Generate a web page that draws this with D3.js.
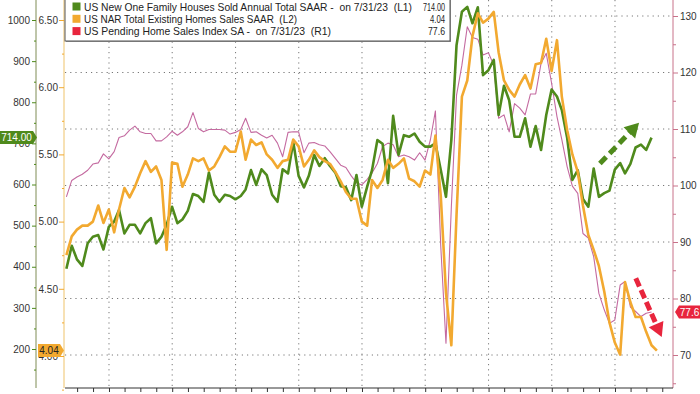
<!DOCTYPE html>
<html>
<head>
    <meta charset="utf-8">
    <title>US Home Sales</title>
    <script src="https://d3js.org/d3.v7.min.js"></script>
    <style>
        body { margin: 0; background: #fff; }
        svg { display: block; font-family: "Liberation Sans Narrow", "Liberation Sans", Arial, sans-serif; }
        .legend text { white-space: pre; }
        .tick text { fill: #333; font-size: 10px; }
    </style>
</head>
<body>
<div id="chart"></div>
<script>
// monthly values, first one is April 2014 (month end)
const newHomeSales = [
    395, 451, 418, 402, 457, 473, 477, 442, 497, 510, 538, 481,
    502, 502, 481, 506, 518, 457, 473, 502, 546, 506, 515, 536,
    577, 572, 558, 629, 575, 558, 575, 572, 564, 572, 588, 635,
    599, 637, 623, 575, 558, 637, 627, 704, 621, 593, 621, 672,
    645, 664, 645, 629, 596, 593, 562, 623, 546, 595, 635, 708,
    699, 603, 767, 672, 720, 716, 724, 704, 692, 692, 700, 635,
    570, 708, 939, 1020, 1032, 992, 1031, 866, 878, 903, 769, 840,
    805, 716, 716, 761, 692, 742, 684, 769, 831, 814, 781, 713,
    611, 635, 565, 546, 639, 570, 579, 585, 636, 652, 627, 650,
    690, 697, 684, 714
]
const existingHomeSales = [
    4.75, 4.89, 4.94, 4.97, 4.97, 5.00, 5.12, 4.99, 5.09, 4.92, 5.09, 5.25,
    5.18, 5.26, 5.36, 5.45, 5.37, 5.41, 5.31, 4.79, 5.44, 5.43, 5.26, 5.35,
    5.47, 5.45, 5.47, 5.38, 5.41, 5.48, 5.56, 5.52, 5.52, 5.67, 5.46, 5.61,
    5.57, 5.59, 5.50, 5.46, 5.40, 5.45, 5.46, 5.61, 5.56, 5.41, 5.46, 5.53,
    5.48, 5.45, 5.43, 5.37, 5.30, 5.22, 5.17, 5.17, 5.00, 4.97, 5.31, 5.25,
    5.31, 5.46, 5.40, 5.43, 5.47, 5.32, 5.30, 5.26, 5.38, 5.35, 5.64, 5.19,
    4.47, 4.08, 5.05, 5.93, 6.05, 6.38, 6.55, 6.48, 6.51, 6.56, 6.26, 6.05,
    5.98, 5.93, 6.02, 6.09, 5.99, 6.17, 6.18, 6.36, 6.12, 6.35, 5.93, 5.68,
    5.50, 5.37, 5.12, 4.90, 4.79, 4.67, 4.48, 4.25, 4.10, 4.01, 4.55, 4.40,
    4.29, 4.29, 4.18, 4.08, 4.04
]
const pendingSales = [
    98.0, 100.9, 101.5, 102.0, 102.7, 103.8, 104.0, 105.6, 104.7, 106.0, 108.5, 108.8,
    109.8, 110.5, 109.5, 109.2, 109.2, 107.9, 107.9, 108.6, 109.6, 108.9, 109.5, 110.4,
    112.9, 110.1, 109.5, 109.9, 109.9, 109.9, 109.8, 109.1, 109.4, 109.9, 111.9, 109.4,
    109.5, 108.9, 108.4, 108.9, 107.5, 105.1, 109.4, 109.5, 109.5, 105.8, 107.5, 107.6,
    107.2, 107.0, 106.0, 104.8, 103.6, 103.2, 101.7, 100.5, 100.1, 101.1, 102.2, 103.9,
    106.9, 107.5, 107.2, 105.1, 105.4, 105.1, 104.5, 105.8, 104.5, 108.1, 113.2, 89.2,
    72.1, 96.2, 116.0, 121.3, 128.1, 126.2, 125.9, 123.1, 123.5, 121.3, 111.9, 112.5,
    109.5, 114.5, 113.7, 112.5, 116.2, 116.2, 121.6, 123.4, 118.1, 112.2, 108.1, 103.3,
    99.9, 98.6, 91.5, 90.7, 87.4, 80.9, 78.0, 75.6, 76.2, 82.4, 83.0, 78.5,
    77.7, 76.8, 77.4, 77.6
]

const l1Ticks = [200, 300, 400, 500, 600, 700, 800, 900, 1000]
const l2Ticks = [4.0, 4.5, 5.0, 5.5, 6.0, 6.5]
const r1Ticks = [70, 80, 90, 100, 110, 120, 130]

const legendNames = [
    "US New One Family Houses Sold Annual Total SAAR -  on 7/31/23  (L1)",
    "US NAR Total Existing Homes Sales SAAR  (L2)",
    "US Pending Home Sales Index SA -  on 7/31/23  (R1)"
]
const legendValues = ["714.00", "4.04", "77.6"]

// hand drawn trend arrows: [date, value] on the series axis
const greenArrow = [["2022-10-06", 651], ["2023-05-20", 750]]
const redArrow = [["2023-05-01", 83.6], ["2023-09-28", 73.2]]

const green = "#4f8a1c", orange = "#f2a930", pink = "#c46aa0", red = "#e8253d"

const w = 700, h = 394
const plot = { left: 65, right: 673, top: 0, bottom: 388 }

function monthEnd(i) { return new Date(2014, 4 + i, 0) }

const x = d3.scaleTime()
    .domain([new Date(2014, 3, 22), new Date(2023, 11, 2)])
    .range([plot.left, plot.right])
const yL1 = d3.scaleLinear().domain([200, 1000]).range([349, 20])
const yL2 = d3.scaleLinear().domain([4.0, 6.5]).range([356, 20])
const yR1 = d3.scaleLinear().domain([70, 130]).range([355, 16])

const svg = d3.select("#chart").append("svg")
    .attr("width", w)
    .attr("height", h)

// grid
svg.append("g").selectAll("line")
    .data(r1Ticks)
    .join("line")
    .attr("x1", plot.left).attr("x2", plot.right)
    .attr("y1", d => yR1(d)).attr("y2", d => yR1(d))
    .attr("stroke", "#777").attr("stroke-dasharray", "1.2,4").attr("stroke-width", 1)

svg.append("g").selectAll("line")
    .data(d3.timeYear.range(new Date(2015, 0, 1), new Date(2023, 1, 1)))
    .join("line")
    .attr("x1", d => x(d)).attr("x2", d => x(d))
    .attr("y1", plot.top).attr("y2", plot.bottom)
    .attr("stroke", "#777").attr("stroke-dasharray", "1.2,4").attr("stroke-width", 1)

// axes
function styleAxis(g, color) {
    g.select(".domain").remove()
    g.selectAll(".tick line").attr("stroke", color)
}

const l1 = svg.append("g").attr("transform", "translate(36,0)")
l1.append("line").attr("y1", 0).attr("y2", plot.bottom).attr("stroke", "#7f8c55")
l1.append("g").call(d3.axisLeft(yL1).tickValues(d3.range(150, 1050, 100)).tickSize(2).tickFormat(""))
    .call(styleAxis, green)
l1.append("g").call(d3.axisLeft(yL1).tickValues(l1Ticks).tickFormat(d3.format("d")).tickSize(4).tickPadding(2))
    .call(styleAxis, green)

const l2 = svg.append("g").attr("transform", "translate(64,0)")
l2.append("line").attr("y1", 0).attr("y2", plot.bottom).attr("stroke", "#efc36a")
l2.append("g").call(d3.axisLeft(yL2).tickValues([3.75, 4.25, 4.75, 5.25, 5.75, 6.25]).tickSize(2).tickFormat(""))
    .call(styleAxis, orange)
l2.append("g").call(d3.axisLeft(yL2).tickValues(l2Ticks).tickFormat(d3.format(".2f")).tickSize(5).tickPadding(1))
    .call(styleAxis, orange)

const r1 = svg.append("g").attr("transform", `translate(${plot.right},0)`)
r1.append("line").attr("y1", 0).attr("y2", plot.bottom).attr("stroke", "#c8728a")
r1.append("g").call(d3.axisRight(yR1).tickValues([65, 75, 85, 95, 105, 115, 125]).tickSize(3).tickFormat(""))
    .call(styleAxis, "#c8728a")
r1.append("g").call(d3.axisRight(yR1).tickValues(r1Ticks).tickSize(5).tickPadding(2))
    .call(styleAxis, "#c8728a")

const xg = svg.append("g").attr("transform", `translate(0,${plot.bottom})`)
xg.append("line").attr("x1", plot.left).attr("x2", plot.right).attr("stroke", "#333")
xg.append("g").call(d3.axisBottom(x).ticks(d3.timeMonth.every(3)).tickSize(4).tickFormat(""))
    .call(styleAxis, "#333")

// series
function drawLine(values, y, color, width) {
    svg.append("path")
        .datum(values)
        .attr("fill", "none")
        .attr("stroke", color)
        .attr("stroke-width", width)
        .attr("stroke-linejoin", "round")
        .attr("d", d3.line().x((d, i) => x(monthEnd(i))).y(d => y(d)))
}
drawLine(pendingSales, yR1, pink, 1.1)
drawLine(newHomeSales, yL1, green, 2.6)
drawLine(existingHomeSales, yL2, orange, 2.6)

// trend arrows
function drawArrow(pts, y, color, dash) {
    const p0 = [x(new Date(pts[0][0])), y(pts[0][1])]
    const p1 = [x(new Date(pts[1][0])), y(pts[1][1])]
    const dx = p1[0] - p0[0], dy = p1[1] - p0[1]
    const len = Math.hypot(dx, dy), ux = dx / len, uy = dy / len
    const head = 14, half = 8
    const b = [p1[0] - ux * head, p1[1] - uy * head]
    svg.append("line")
        .attr("x1", p0[0]).attr("y1", p0[1]).attr("x2", b[0] + ux * 2).attr("y2", b[1] + uy * 2)
        .attr("stroke", color).attr("stroke-width", 5).attr("stroke-dasharray", dash)
    svg.append("polygon")
        .attr("points", [p1, [b[0] - uy * half, b[1] + ux * half], [b[0] + uy * half, b[1] - ux * half]].map(p => p.join(",")).join(" "))
        .attr("fill", color)
}
drawArrow(greenArrow, yL1, green, "9,5")
drawArrow(redArrow, yR1, red, "9,4")

// value tags on the axes
function tag(x0, x1, tip, yc, fill, label, textColor) {
    const hh = 6.5
    svg.append("polygon")
        .attr("points", [[x0, yc - hh], [x1, yc - hh], [tip, yc], [x1, yc + hh], [x0, yc + hh]].map(p => p.join(",")).join(" "))
        .attr("fill", fill)
    svg.append("text")
        .attr("x", (x0 + x1) / 2).attr("y", yc + 3.5)
        .attr("text-anchor", "middle")
        .attr("font-size", 10)
        .attr("fill", textColor)
        .text(label)
}
tag(0, 33, 37, yL1(newHomeSales[newHomeSales.length - 1]), green, legendValues[0], "#fff")
tag(38, 60, 64, yL2(existingHomeSales[existingHomeSales.length - 1]), orange, legendValues[1], "#222")
tag(700, 679, 675, yR1(pendingSales[pendingSales.length - 1]), red, legendValues[2], "#fff")

// legend
const legend = svg.append("g").attr("class", "legend")
legend.append("rect")
    .attr("x", 66).attr("y", -2).attr("width", 385).attr("height", 44)
    .attr("fill", "#999")
legend.append("rect")
    .attr("x", 65).attr("y", -3).attr("width", 385).attr("height", 44)
    .attr("fill", "#fff").attr("stroke", "#555").attr("stroke-width", 1)

const legendWidths = [328, 213, 247]
const valueWidths = [22, 15, 17]
const legendColors = [green, orange, red]
legendNames.forEach((name, i) => {
    const yc = 6.5 + i * 12.3
    legend.append("rect")
        .attr("x", 72.5).attr("y", yc - 4).attr("width", 8).attr("height", 8)
        .attr("fill", legendColors[i])
    legend.append("text")
        .attr("x", 84).attr("y", yc + 4)
        .attr("font-size", 10.5).attr("fill", "#222")
        .attr("textLength", legendWidths[i]).attr("lengthAdjust", "spacingAndGlyphs")
        .text(name)
    legend.append("text")
        .attr("x", 445).attr("y", yc + 4)
        .attr("text-anchor", "end")
        .attr("font-size", 10.5).attr("fill", "#222")
        .attr("textLength", valueWidths[i]).attr("lengthAdjust", "spacingAndGlyphs")
        .text(legendValues[i])
})
</script>
</body>
</html>
